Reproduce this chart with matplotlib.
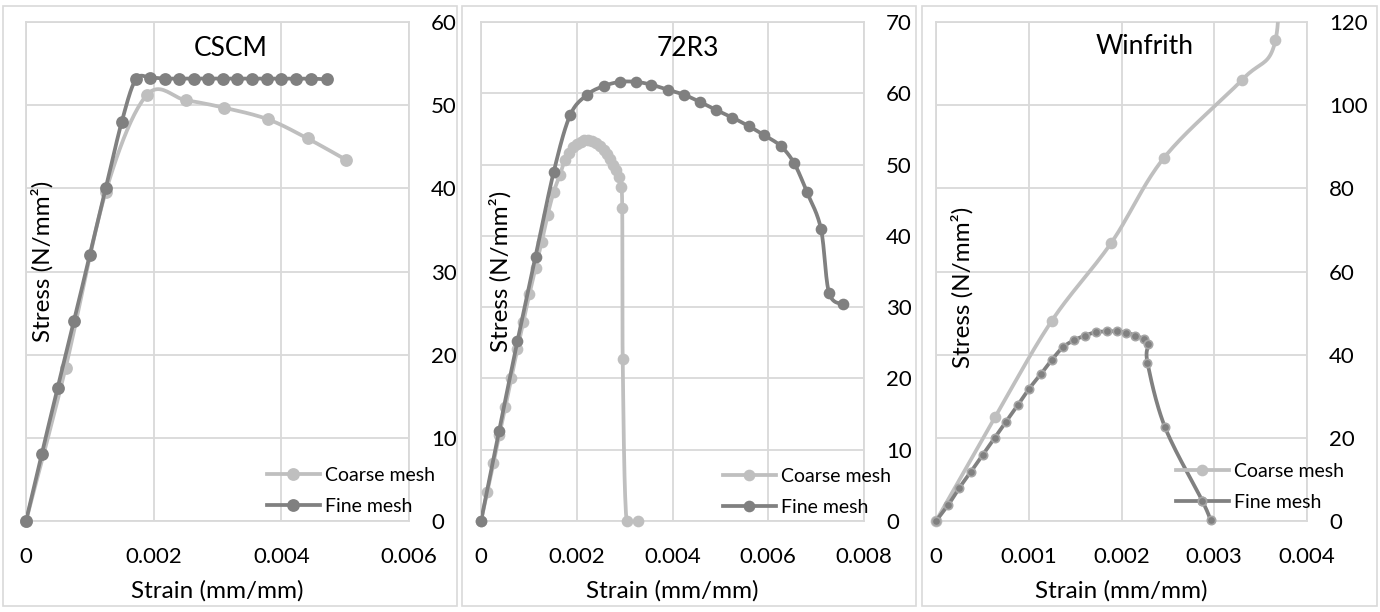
import matplotlib
matplotlib.use('Agg')
import matplotlib.pyplot as plt
import numpy as np
from matplotlib.lines import Line2D
from matplotlib.patches import Rectangle

plt.rcParams['font.family'] = ['Lato', 'DejaVu Sans']

# CSCM
cscm_coarse_x = [0, 0.00062, 0.00125, 0.00189, 0.0025, 0.0031, 0.00379, 0.00441, 0.00502]
cscm_coarse_y = [0, 18.4, 39.6, 51.2, 50.6, 49.7, 48.3, 46.0, 43.4]
cscm_fine_x = [0, 0.000245, 0.000495, 0.00075, 0.001, 0.00125, 0.0015, 0.00172, 0.00195,
               0.00217, 0.0024, 0.00263, 0.00285, 0.00308, 0.00331, 0.00354, 0.00377,
               0.004, 0.00423, 0.00446, 0.00472]
cscm_fine_y = [0, 8, 16, 24, 32, 40, 48, 53.1, 53.3, 53.2, 53.2, 53.2, 53.2, 53.2, 53.2,
               53.2, 53.2, 53.2, 53.2, 53.2, 53.1]

# 72R3
r72_coarse_x = [0, 0.00013, 0.00026, 0.00038, 0.00051, 0.00063, 0.00076, 0.00088, 0.00101,
                0.00114, 0.00127, 0.00139, 0.00152, 0.00165, 0.00175, 0.00184, 0.00192,
                0.002, 0.00208, 0.00216, 0.00224, 0.00232, 0.0024, 0.00248, 0.00256,
                0.00263, 0.0027, 0.00276, 0.00282, 0.00288, 0.00292, 0.00295, 0.00296,
                0.00304, 0.00327]
r72_coarse_y = [0, 4.0, 8.1, 12.0, 16.0, 20.0, 24.1, 27.9, 31.8, 35.5, 39.2, 42.9, 46.2,
                48.6, 50.6, 51.6, 52.4, 52.9, 53.2, 53.4, 53.4, 53.3, 53.0, 52.6, 52.1,
                51.5, 50.8, 50.0, 49.2, 48.2, 46.8, 43.9, 22.7, 0, 0]
r72_fine_x = [0, 0.000376, 0.00076, 0.00114, 0.00152, 0.00186, 0.00222, 0.00256, 0.0029,
              0.00324, 0.00356, 0.0039, 0.00424, 0.00457, 0.0049, 0.00525, 0.00559,
              0.00592, 0.00626, 0.00654, 0.00681, 0.0071, 0.00727, 0.00757]
r72_fine_y = [0, 12.6, 25.2, 37.1, 49.0, 56.9, 59.8, 61.0, 61.6, 61.6, 61.2, 60.5, 59.8,
              58.8, 57.7, 56.6, 55.4, 54.1, 52.6, 50.2, 46.1, 41.0, 32.0, 30.4]

# Winfrith
win_coarse_x = [0, 0.000637, 0.00125, 0.00189, 0.00246, 0.0033, 0.00366, 0.0037]
win_coarse_y = [0, 25.0, 48.2, 66.9, 87.4, 106.1, 115.6, 145]
win_fine_x = [0, 0.000133, 0.000252, 0.000378, 0.000503, 0.000633, 0.000755, 0.00088,
              0.001, 0.00113, 0.00125, 0.00137, 0.00149, 0.00161, 0.00172, 0.00184,
              0.00195, 0.00205, 0.00215, 0.00224, 0.00229, 0.00228, 0.00247, 0.00287,
              0.00296]
win_fine_y = [0, 3.9, 8.0, 11.9, 15.9, 20.0, 23.9, 27.8, 31.7, 35.3, 38.8, 41.8, 43.5,
              44.6, 45.4, 45.6, 45.6, 45.3, 44.6, 43.7, 42.5, 38.1, 22.5, 4.9, 0.2]

titles = ['CSCM', '72R3', 'Winfrith']
series_names = ['Coarse mesh', 'Fine mesh']

COARSE = '#bfbfbf'
FINE = '#808080'
GRID = '#d9d9d9'
W, H = 1380, 612


def smooth(x, y, n=24):
    # excel-like bezier smoothing
    p = np.column_stack([x, y]).astype(float)
    out = [p[:1]]
    t = np.linspace(0, 1, n)[1:, None]
    for i in range(len(p) - 1):
        p0 = p[i - 1] if i > 0 else p[i]
        p1, p2 = p[i], p[i + 1]
        p3 = p[i + 2] if i + 2 < len(p) else p[i + 1]
        c1 = p1 + (p2 - p0) / 6
        c2 = p2 - (p3 - p1) / 6
        seg = (1 - t) ** 3 * p1 + 3 * (1 - t) ** 2 * t * c1 + 3 * (1 - t) * t ** 2 * c2 + t ** 3 * p2
        out.append(seg)
    s = np.vstack(out)
    return s[:, 0], s[:, 1]


def box(l, r, t, b):
    return [l / W, 1 - b / H, (r - l) / W, (b - t) / H]


fig = plt.figure(figsize=(13.8, 6.12), dpi=100)

panels = [
    dict(ax=box(26, 409, 22, 521), frame=(3, 457), xmax=0.006, xstep=0.002, ymax=60, ystep=10,
         data=[(cscm_coarse_x, cscm_coarse_y), (cscm_fine_x, cscm_fine_y)], ms=8,
         title=(231, 48), ylab=(42, 261), leg=(267, 491)),
    dict(ax=box(481, 864, 22, 521), frame=(462, 916), xmax=0.008, xstep=0.002, ymax=70, ystep=10,
         data=[(r72_coarse_x, r72_coarse_y), (r72_fine_x, r72_fine_y)], ms=7.2,
         title=(688, 48), ylab=(500, 271), leg=(723, 492)),
    dict(ax=box(936, 1307, 22, 521), frame=(922, 1377), xmax=0.004, xstep=0.001, ymax=120, ystep=20,
         data=[(win_coarse_x, win_coarse_y), (win_fine_x, win_fine_y)], ms=7.2,
         title=(1145, 47), ylab=(962, 287), leg=(1176, 487)),
]

for k, p in enumerate(panels):
    l, r = p['frame']
    fig.patches.append(Rectangle((l / W, 6 / H), (r - l) / W, (606 - 6) / H,
                                 transform=fig.transFigure, fill=False,
                                 edgecolor=GRID, lw=1.2))
    ax = fig.add_axes(p['ax'])
    ax.set_xlim(0, p['xmax'])
    ax.set_ylim(0, p['ymax'])
    ax.set_xticks(np.arange(0, p['xmax'] + 1e-9, p['xstep']))
    ax.set_yticks(np.arange(0, p['ymax'] + 1, p['ystep']))
    ax.xaxis.set_major_formatter(plt.FuncFormatter(lambda v, pos: '0' if abs(v) < 1e-12 else f'{v:g}'))
    ax.yaxis.tick_right()
    ax.tick_params(length=0, labelsize=16, colors='black')
    ax.tick_params(axis='x', pad=19)
    ax.tick_params(axis='y', pad=16)
    ax.grid(True, color=GRID, lw=1.3)
    ax.set_axisbelow(True)
    for s in ax.spines.values():
        s.set_color(GRID)
        s.set_linewidth(1.3)

    handles = []
    for j, (xs, ys) in enumerate(p['data']):
        col = COARSE if j == 0 else FINE
        sx, sy = smooth(xs, ys)
        ax.plot(sx, sy, color=col, lw=2.7, solid_capstyle='round', zorder=3 + j)
        xs = np.array(xs)
        ys = np.array(ys)
        m = ys <= p['ymax']
        ms = p['ms']
        mec = col
        if k == 2 and j == 1:
            ms = 6
            mec = '#a6a6a6'
        ax.plot(xs[m], ys[m], ls='none', marker='o', ms=ms, color=col, mec=mec,
                mew=1.2, clip_on=False, zorder=3 + j)
        handles.append(Line2D([], [], color=col, lw=2.7, marker='o', ms=ms, mec=mec, mew=1.2))

    ax.legend(handles, series_names, loc='center left',
              bbox_to_anchor=(p['leg'][0] / W, 1 - p['leg'][1] / H),
              bbox_transform=fig.transFigure, frameon=False, borderpad=0,
              borderaxespad=0, handlelength=2.7, handletextpad=0.3,
              labelspacing=0.7, fontsize=14)

    fig.text(p['title'][0] / W, 1 - p['title'][1] / H, titles[k], fontsize=19,
             ha='center', va='center')
    fig.text(p['ylab'][0] / W, 1 - p['ylab'][1] / H, 'Stress (N/mm²)', fontsize=17.5,
             rotation=90, ha='center', va='center')
    cx = (p['ax'][0] + p['ax'][2] / 2)
    fig.text(cx, 1 - 591 / H, 'Strain (mm/mm)', fontsize=17.5, ha='center', va='center')

fig.savefig('out.png', dpi=100)
